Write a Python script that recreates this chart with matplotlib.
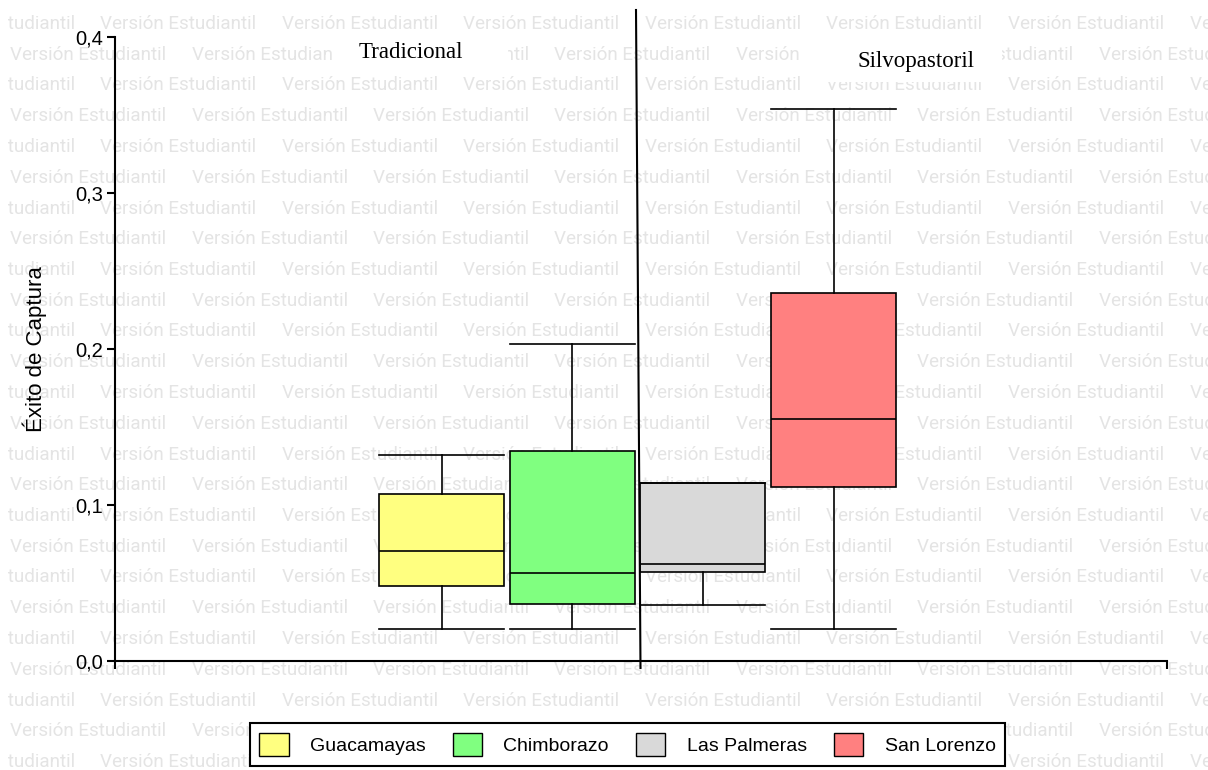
import matplotlib
matplotlib.use("Agg")
import matplotlib.pyplot as plt
from matplotlib.patches import Patch, Rectangle
from matplotlib.lines import Line2D

# ---------------- data ----------------
sites = ["Guacamayas", "Chimborazo", "Las Palmeras", "San Lorenzo"]
colors = ["#FFFF80", "#80FF80", "#D9D9D9", "#FF8080"]
whis_low = [0.0205, 0.0205, 0.0359, 0.0205]
q1 = [0.048, 0.0365, 0.057, 0.1115]
median = [0.0705, 0.0564, 0.062, 0.155]
q3 = [0.107, 0.1346, 0.114, 0.236]
whis_high = [0.132, 0.2032, 0.114, 0.354]
group_labels = ["Tradicional", "Silvopastoril"]
y_ticks = [0.0, 0.1, 0.2, 0.3, 0.4]
y_ticklabels = ["0,0", "0,1", "0,2", "0,3", "0,4"]
y_label = "Éxito de Captura"
watermark = "Versión Estudiantil"

W, H = 1208, 770
fig = plt.figure(figsize=(W / 100, H / 100), dpi=100)
fig.patch.set_facecolor("white")

def fx(px):
    return px / W

def fy(py):
    return 1 - py / H

# ---------------- watermark ----------------
clip = Rectangle((fx(8), 0), 1 - fx(8), 1, transform=fig.transFigure,
                 facecolor="none", edgecolor="none")
for k in range(25):
    yy = 24 + 30.75 * k
    start = -81 if k % 2 == 0 else 10
    for j in range(8):
        t = fig.text(fx(start + 181.5 * j), fy(yy), watermark, fontsize=13.6,
                     family="Roboto", color="#e4e4e4", ha="left", va="center",
                     zorder=-5)
        t.set_clip_path(clip)

# ---------------- axes ----------------
ax_left, ax_right, ax_top, ax_bottom = 115, 1167, 37, 661
ax = fig.add_axes([fx(ax_left), fy(ax_bottom), fx(ax_right) - fx(ax_left),
                   fy(ax_top) - fy(ax_bottom)])
ax.set_facecolor("none")

positions = list(range(1, len(sites) + 1))
width = 0.957
stats = []
for i, s in enumerate(sites):
    stats.append(dict(label=s, whislo=whis_low[i], q1=q1[i], med=median[i],
                      q3=q3[i], whishi=whis_high[i], fliers=[]))

bp = ax.bxp(stats, positions=positions, widths=width, capwidths=width,
            patch_artist=True, showfliers=False,
            boxprops=dict(linewidth=1.2, edgecolor="black"),
            medianprops=dict(color="black", linewidth=1.2),
            whiskerprops=dict(color="black", linewidth=1.2),
            capprops=dict(color="black", linewidth=1.2))
for patch, c in zip(bp["boxes"], colors):
    patch.set_facecolor(c)

ax.set_ylim(0, 0.4)
ax.set_xlim(1 - 2.4987, 4 + 2.552)
ax.set_yticks(y_ticks)
ax.set_yticklabels(y_ticklabels)
ax.set_xticks(list(ax.get_xlim()))
ax.set_xticklabels(["", ""])
for side in ["top", "right"]:
    ax.spines[side].set_visible(False)
for side in ["left", "bottom"]:
    ax.spines[side].set_linewidth(1.5)
ax.tick_params(axis="both", direction="out", length=5.5, width=1.5,
               labelsize=14.5, pad=3)
for t in ax.get_yticklabels():
    t.set_family("Liberation Sans")
ax.set_ylabel(y_label, family="Liberation Sans", fontsize=16)
ax.yaxis.set_label_coords((47 - ax_left) / (ax_right - ax_left), 0.5)

# ---------------- group labels with white masks ----------------
fig.patches.append(Rectangle((fx(333), fy(72)), fx(508) - fx(333), fy(29) - fy(72),
                             transform=fig.transFigure, facecolor="white",
                             edgecolor="none", zorder=-1))
fig.patches.append(Rectangle((fx(804), fy(82)), fx(1002) - fx(804), fy(38) - fy(82),
                             transform=fig.transFigure, facecolor="white",
                             edgecolor="none", zorder=-1))
fig.text(fx(411), fy(58), group_labels[0], family="Liberation Serif",
         fontsize=16.5, ha="center", va="baseline")
fig.text(fx(916), fy(67), group_labels[1], family="Liberation Serif",
         fontsize=16.5, ha="center", va="baseline")

# separator line
fig.add_artist(Line2D([fx(636), fx(640.5)], [fy(10), fy(668)],
                      transform=fig.transFigure, color="black", linewidth=1.5))

# ---------------- legend ----------------
handles = [Patch(facecolor=c, edgecolor="black", linewidth=1.0) for c in colors]
leg = fig.legend(handles, sites, loc="center", ncol=4,
                 bbox_to_anchor=(fx(627.5), fy(744.5)),
                 prop=dict(family="Liberation Sans", size=14),
                 handlelength=1.5, handleheight=1.5, handletextpad=1.1,
                 columnspacing=1.4, borderpad=0.5, fancybox=False,
                 frameon=True, framealpha=1, edgecolor="black",
                 borderaxespad=0)
leg.get_frame().set_linewidth(1.5)

fig.savefig("out.png", dpi=100)
